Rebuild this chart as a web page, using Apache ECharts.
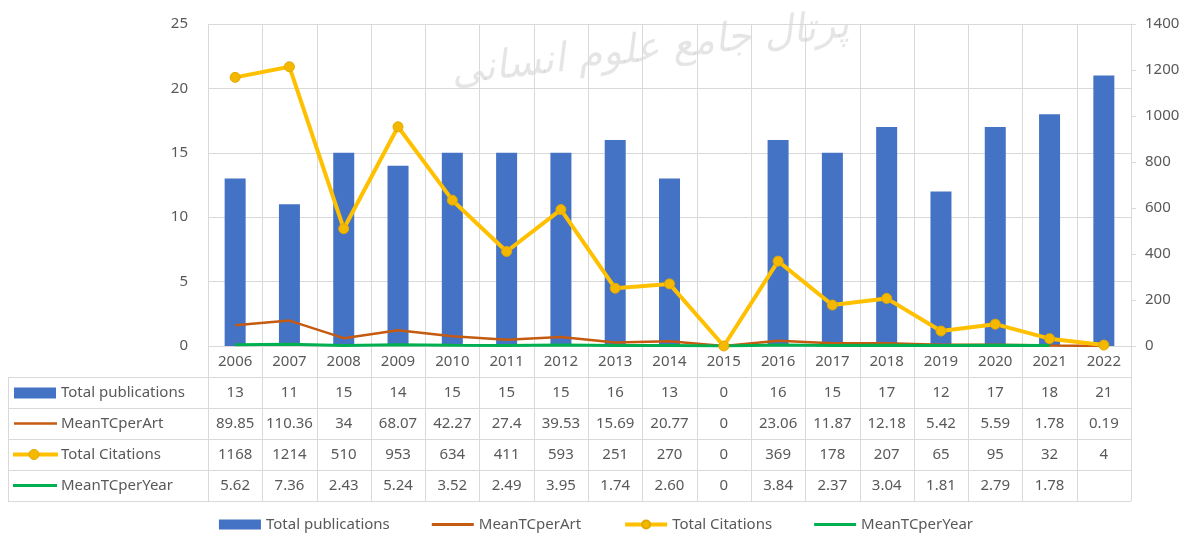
<!DOCTYPE html>
<html>
<head>
<meta charset="utf-8">
<script src="https://cdn.jsdelivr.net/npm/echarts@6/dist/echarts.min.js"></script>
<style>
  html, body { margin: 0; padding: 0; background: #fff; }
  #chart { width: 1192px; height: 540px; }
</style>
</head>
<body>
<div id="chart"></div>
<script>
const years = ['2006', '2007', '2008', '2009', '2010', '2011', '2012', '2013', '2014', '2015', '2016', '2017', '2018', '2019', '2020', '2021', '2022']
const totalPublications = [13, 11, 15, 14, 15, 15, 15, 16, 13, 0, 16, 15, 17, 12, 17, 18, 21]
const meanTCperArt = [89.85, 110.36, 34, 68.07, 42.27, 27.4, 39.53, 15.69, 20.77, 0, 23.06, 11.87, 12.18, 5.42, 5.59, 1.78, 0.19]
const totalCitations = [1168, 1214, 510, 953, 634, 411, 593, 251, 270, 0, 369, 178, 207, 65, 95, 32, 4]
const meanTCperYear = [5.62, 7.36, 2.43, 5.24, 3.52, 2.49, 3.95, 1.74, 2.6, 0, 3.84, 2.37, 3.04, 1.81, 2.79, 1.78, null]

const FONT = 'Noto Sans'
const TXT = '#595959'
const GRID_COLOR = '#d9d9d9'
const BLUE = '#4472c4'
const BROWN = '#c55a11'
const GOLD = '#ffc000'
const GREEN = '#00b050'

const myChart = echarts.init(document.getElementById('chart'))

const gridLeft = 208
const gridRight = 1131
const gridTop = 24
const gridBottom = 346
const rowH = 31

// flat bar used as legend key for the plain lines
const lineIcon = 'path://M0,0 L44,0 L44,3 L0,3 Z'

myChart.setOption({
  animation: false,
  textStyle: { fontFamily: FONT },
  grid: {
    left: gridLeft,
    right: 1192 - gridRight,
    top: gridTop,
    bottom: 540 - gridBottom,
    containLabel: false,
  },
  legend: {
    bottom: 3,
    left: 'center',
    itemWidth: 42,
    itemHeight: 10,
    itemGap: 42,
    textStyle: { fontFamily: FONT, fontSize: 15, color: TXT },
    data: [
      { name: 'Total publications', icon: 'rect' },
      { name: 'MeanTCperArt', icon: lineIcon, itemStyle: { color: BROWN } },
      { name: 'Total Citations', lineStyle: { width: 4, color: GOLD } },
      { name: 'MeanTCperYear', icon: lineIcon, itemStyle: { color: GREEN } },
    ],
  },
  xAxis: {
    type: 'category',
    data: years,
    boundaryGap: true,
    axisLine: { show: false },
    axisTick: { show: false },
    splitLine: { show: false },
    axisLabel: { color: TXT, fontSize: 15, margin: 8, fontFamily: FONT },
  },
  yAxis: [
    {
      type: 'value',
      min: 0,
      max: 25,
      interval: 5,
      axisLine: { show: false },
      axisTick: { show: false },
      axisLabel: { color: TXT, fontSize: 15, margin: 20, fontFamily: FONT },
      splitLine: { lineStyle: { color: GRID_COLOR, width: 1 } },
    },
    {
      type: 'value',
      min: 0,
      max: 1400,
      interval: 200,
      position: 'right',
      axisLine: { show: true, lineStyle: { color: GRID_COLOR } },
      axisTick: { show: true, length: 5, lineStyle: { color: GRID_COLOR } },
      axisLabel: {
        color: TXT,
        fontSize: 15,
        margin: 14,
        fontFamily: FONT,
        formatter: (v) => String(v),
      },
      splitLine: { show: false },
    },
  ],
  series: [
    {
      name: 'Total publications',
      type: 'bar',
      yAxisIndex: 0,
      barWidth: 21,
      itemStyle: { color: BLUE },
      data: totalPublications,
      z: 2,
    },
    {
      name: 'MeanTCperArt',
      type: 'line',
      yAxisIndex: 1,
      symbol: 'none',
      lineStyle: { color: BROWN, width: 2.5 },
      itemStyle: { color: BROWN },
      data: meanTCperArt,
      z: 3,
    },
    {
      name: 'Total Citations',
      type: 'line',
      yAxisIndex: 1,
      symbol: 'circle',
      symbolSize: 10,
      lineStyle: { color: GOLD, width: 4 },
      itemStyle: { color: '#f5b800', borderColor: '#e0a800', borderWidth: 1 },
      data: totalCitations,
      z: 5,
    },
    {
      name: 'MeanTCperYear',
      type: 'line',
      yAxisIndex: 1,
      symbol: 'none',
      lineStyle: { color: GREEN, width: 3 },
      itemStyle: { color: GREEN },
      data: meanTCperYear,
      z: 4,
    },
  ],
})

// data table under the chart, built from the same arrays
const fmtYear = (v) => (v === null ? '' : v === 0 ? '0' : v.toFixed(2))
const tableRows = [
  { name: 'Total publications', values: totalPublications.map(String) },
  { name: 'MeanTCperArt', values: meanTCperArt.map(String) },
  { name: 'Total Citations', values: totalCitations.map(String) },
  { name: 'MeanTCperYear', values: meanTCperYear.map(fmtYear) },
]

const centers = years.map((y, i) => myChart.convertToPixel({ xAxisIndex: 0 }, i))
const step = centers.length > 1 ? centers[1] - centers[0] : 54
const tableTop = gridBottom + rowH
const tableBottom = tableTop + rowH * tableRows.length
const tableLeft = 8

const elements = []
const line = (x1, y1, x2, y2) => ({
  type: 'line',
  z: -1,
  shape: { x1: x1, y1: y1, x2: x2, y2: y2 },
  style: { stroke: GRID_COLOR, lineWidth: 1 },
  silent: true,
})

// vertical separators
centers.forEach((c) => {
  const x = Math.round(c - step / 2) + 0.5
  elements.push(line(x, gridTop, x, tableBottom))
})
elements.push(line(gridRight + 0.5, gridTop, gridRight + 0.5, tableBottom))
elements.push(line(tableLeft + 0.5, tableTop, tableLeft + 0.5, tableBottom))
// horizontal separators
for (let r = 0; r <= tableRows.length; r++) {
  const y = tableTop + r * rowH + 0.5
  elements.push(line(tableLeft, y, gridRight, y))
}

tableRows.forEach((row, r) => {
  const cy = tableTop + r * rowH + rowH / 2
  row.values.forEach((v, i) => {
    elements.push({
      type: 'text',
      x: centers[i],
      y: cy,
      style: { text: v, fill: TXT, font: '15px "' + FONT + '"', align: 'center', verticalAlign: 'middle' },
      silent: true,
    })
  })
  elements.push({
    type: 'text',
    x: 61,
    y: cy,
    style: { text: row.name, fill: TXT, font: '15px "' + FONT + '"', align: 'left', verticalAlign: 'middle' },
    silent: true,
  })
})

// legend keys inside the table header column
const key0 = tableTop + rowH / 2
elements.push({ type: 'rect', shape: { x: 14, y: key0 - 5, width: 42, height: 11 }, style: { fill: BLUE }, silent: true })
elements.push({ type: 'line', shape: { x1: 14, y1: key0 + rowH, x2: 57, y2: key0 + rowH }, style: { stroke: BROWN, lineWidth: 2.5 }, silent: true })
elements.push({ type: 'line', shape: { x1: 13, y1: key0 + rowH * 2, x2: 58, y2: key0 + rowH * 2 }, style: { stroke: GOLD, lineWidth: 4 }, silent: true })
elements.push({ type: 'circle', shape: { cx: 34, cy: key0 + rowH * 2, r: 5 }, style: { fill: '#f5b800', stroke: '#e0a800', lineWidth: 1 }, silent: true })
elements.push({ type: 'line', shape: { x1: 13, y1: key0 + rowH * 3, x2: 57, y2: key0 + rowH * 3 }, style: { stroke: GREEN, lineWidth: 3 }, silent: true })

// faint watermark
elements.push({
  type: 'text',
  x: 650,
  y: 50,
  rotation: 0.12,
  z: -2,
  style: {
    text: 'پرتال جامع علوم انسانی',
    fill: 'rgba(0,0,0,0.10)',
    font: 'italic 40px "DejaVu Sans"',
    align: 'center',
    verticalAlign: 'middle',
  },
  silent: true,
})

myChart.setOption({ graphic: { elements: elements } })

window.addEventListener('resize', () => {
  myChart.resize()
})
</script>
</body>
</html>
